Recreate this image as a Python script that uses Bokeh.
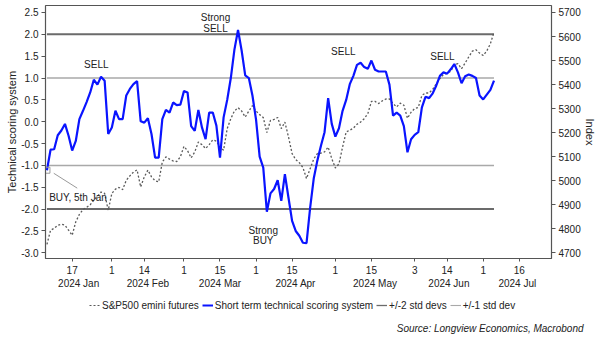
import numpy as np
from bokeh.plotting import figure
from bokeh.layouts import column
from bokeh.models import (Range1d, LinearAxis, FixedTicker, Legend, LegendItem,
                          Label, PrintfTickFormatter)
from bokeh.embed import file_html
from bokeh.resources import INLINE
from bokeh.core.properties import value

# ---------------- data ----------------
HOLIDAYS = ["2024-01-01", "2024-01-15", "2024-02-19", "2024-03-29",
            "2024-05-27", "2024-06-19", "2024-07-04"]
START_DATE = "2024-01-05"   # first trading day shown (daily series, trading days)

SCORE = [
    -1.11, -0.64, -0.63, -0.31, -0.20, -0.05, -0.32, -0.66, -0.44, 0.06,
    0.25, 0.45, 0.67, 0.96, 0.85, 1.03, 0.94, -0.28, -0.13, 0.25,
    0.06, 0.06, 0.60, 0.75, 0.86, 0.93, 0.01, -0.02, 0.08, -0.28,
    -0.82, -0.82, 0.06, 0.27, 0.21, 0.44, 0.38, 0.39, 0.70, 0.67,
    -0.10, -0.21, 0.27, -0.13, -0.40, 0.21, 0.21, -0.09, -0.82, 0.10,
    0.50, 1.00, 1.65, 2.10, 1.63, 1.06, 1.00, 0.60, 0.05, -0.80,
    -1.05, -2.06, -1.64, -1.54, -1.34, -1.81, -1.20, -1.74, -2.27, -2.50,
    -2.61, -2.77, -2.78, -1.97, -1.30, -0.89, -0.55, -0.24, 0.54, -0.05,
    -0.34, -0.15, 0.25, 0.50, 0.86, 1.05, 1.30, 1.35, 1.25, 1.21,
    1.40, 1.19, 1.15, 1.15, 1.15, 0.85, 0.14, 0.21, 0.14, -0.10,
    -0.70, -0.40, -0.30, -0.24, 0.33, 0.57, 0.54, 0.65, 0.83, 1.05,
    1.13, 1.10, 1.20, 1.32, 1.13, 0.88, 1.04, 1.08, 1.05, 1.00,
    0.60, 0.51, 0.62, 0.73, 0.94,
]

SP500 = [
    4735, 4794, 4802, 4815, 4819, 4815, 4794, 4773, 4829, 4860,
    4880, 4889, 4900, 4919, 4935, 4953, 4947, 4877, 4947, 4965,
    4972, 4963, 5002, 5020, 5036, 5045, 4974, 5016, 5044, 5016,
    5000, 4995, 5078, 5099, 5090, 5082, 5080, 5099, 5143, 5125,
    5095, 5120, 5161, 5150, 5134, 5150, 5170, 5165, 5140, 5127,
    5217, 5258, 5290, 5304, 5290, 5265, 5290, 5312, 5290, 5275,
    5263, 5200, 5251, 5255, 5263, 5217, 5244, 5182, 5113, 5088,
    5075, 5055, 5009, 5050, 5090, 5113, 5115, 5120, 5140, 5092,
    5053, 5070, 5140, 5203, 5210, 5219, 5235, 5244, 5258, 5279,
    5330, 5330, 5321, 5332, 5340, 5340, 5321, 5307, 5323, 5314,
    5260, 5285, 5300, 5305, 5355, 5365, 5365, 5380, 5404, 5425,
    5442, 5448, 5455, 5484, 5487, 5466, 5490, 5515, 5539, 5545,
    5531, 5521, 5540, 5570, 5618,
]

STD2 = 2.0
STD1 = 1.0

LEFT_TICKS = [-3.0, -2.5, -2.0, -1.5, -1.0, -0.5, 0.0, 0.5, 1.0, 1.5, 2.0, 2.5]
RIGHT_TICKS = [4700, 4800, 4900, 5000, 5100, 5200, 5300, 5400, 5500, 5600, 5700]

TICK_DATES = ["2024-01-17", "2024-02-01", "2024-02-14", "2024-03-01", "2024-03-15",
              "2024-04-01", "2024-04-15", "2024-05-01", "2024-05-15", "2024-06-03",
              "2024-06-14", "2024-07-01", "2024-07-16"]
TICK_LABELS = ["17", "1", "14", "1", "15", "1", "15", "1", "15", "3", "14", "1", "16"]

MONTH_STARTS = ["2024-01-01", "2024-02-01", "2024-03-01", "2024-04-01", "2024-05-01",
                "2024-06-01", "2024-07-01", "2024-08-01"]
MONTH_LABELS = ["2024 Jan", "2024 Feb", "2024 Mar", "2024 Apr", "2024 May",
                "2024 Jun", "2024 Jul"]

ANNOT_TEXT = ["SELL", "Strong", "SELL", "Strong", "BUY", "SELL", "SELL", "BUY, 5th Jan"]
LEGEND_LABELS = ["S&P500 emini futures", "Short term technical scoring system",
                 "+/-2 std devs", "+/-1 std dev"]
SOURCE = "Source: Longview Economics, Macrobond"

# ---------------- helpers ----------------
ORIGIN = "2024-01-02"


def tday(d):
    d = np.array(d, dtype="datetime64[D]")
    return np.busday_count(ORIGIN, d, holidays=HOLIDAYS).astype(float)


n = len(SCORE)
dates = np.busday_offset(START_DATE, np.arange(n), roll="forward", holidays=HOLIDAYS)
x = tday(dates)

X0, X1 = 2.6, 142.95
Y0, Y1 = -3.13, 2.66


def to_idx(v):
    # right axis aligned so that -3 <-> 4700 and 2.5 <-> 5700
    return 4700 + (v + 3.0) * 1000.0 / 5.5


FONT = "Liberation Sans"
AX = "#555555"
TXT = "#222222"
BLUE = "#0a14ff"
SPC = "#5a5a5a"
C2 = "#6b6b6b"
C1 = "#a9a9a9"

TOP_H = 292
BOT_H = 338 - TOP_H

p = figure(width=602, height=TOP_H, output_backend="svg", toolbar_location=None,
           x_range=Range1d(X0, X1), y_range=Range1d(Y0, Y1),
           x_axis_type=None, y_axis_type=None,
           min_border_left=45, min_border_right=51, min_border_top=5,
           min_border_bottom=TOP_H - 258)
p.frame_align = False
p.extra_y_ranges = {"idx": Range1d(to_idx(Y0), to_idx(Y1))}
p.grid.visible = False
p.outline_line_color = AX
p.outline_line_width = 1


def style(ax, size="10px"):
    ax.axis_line_color = AX
    ax.axis_line_width = 1.2
    ax.major_tick_line_color = AX
    ax.major_tick_in = 0
    ax.major_tick_out = 4
    ax.minor_tick_line_color = None
    ax.major_label_text_font = FONT
    ax.major_label_text_font_size = size
    ax.major_label_text_color = TXT
    ax.axis_label_text_font = FONT
    ax.axis_label_text_font_size = "11px"
    ax.axis_label_text_font_style = "normal"
    ax.axis_label_text_color = TXT


ly = LinearAxis(ticker=FixedTicker(ticks=LEFT_TICKS),
                formatter=PrintfTickFormatter(format="%.1f"),
                axis_label="Technical scoring system")
style(ly)
ly.major_label_standoff = 3
ly.axis_label_standoff = 0
p.add_layout(ly, "left")

ry = LinearAxis(y_range_name="idx", ticker=FixedTicker(ticks=RIGHT_TICKS),
                axis_label="Index")
style(ry)
ry.major_label_standoff = 3
ry.axis_label_standoff = 0
p.add_layout(ry, "right")

tick_x = tday(TICK_DATES)
xa = LinearAxis(ticker=FixedTicker(ticks=list(tick_x)),
                major_label_overrides={float(t): l for t, l in zip(tick_x, TICK_LABELS)})
style(xa)
xa.major_tick_out = 3
xa.major_label_standoff = 4
p.add_layout(xa, "below")

mb = tday(MONTH_STARTS)
mcent = [float((max(mb[i], X0) + min(mb[i + 1], X1)) / 2.0) for i in range(len(MONTH_LABELS))]
ma = LinearAxis(ticker=FixedTicker(ticks=mcent),
                major_label_overrides={t: l for t, l in zip(mcent, MONTH_LABELS)})
style(ma)
ma.axis_line_color = None
ma.major_tick_line_color = None
ma.major_tick_out = 0
ma.major_label_standoff = 1
p.add_layout(ma, "below")

# ---------------- series ----------------
p.line(x, [STD2] * n, line_color=C2, line_width=2)
p.line(x, [-STD2] * n, line_color=C2, line_width=2)
p.line(x, [STD1] * n, line_color=C1, line_width=1.5)
p.line(x, [-STD1] * n, line_color=C1, line_width=1.5)

p.line(x, SP500, y_range_name="idx", line_color=SPC, line_width=1.3, line_dash="2 2")
p.line(x, SCORE, line_color=BLUE, line_width=2.2)

# BUY marker on first point
p.scatter([x[0]], [SCORE[0]], marker="square", size=6, fill_color=None,
          line_color="#9a9a9a", line_width=1)
p.segment(x0=[x[0] + 1.9], y0=[SCORE[0] - 0.07], x1=[x[0] + 8.4], y1=[SCORE[0] - 0.41],
          line_color="#9a9a9a", line_width=1)

# annotations (positions in trading-day / score units)
ann_x = [16.7, 49.75, 49.75, 63.0, 63.0, 85.2, 112.7, 11.6]
ann_y = [1.32, 2.39, 2.14, -2.49, -2.72, 1.61, 1.49, -1.74]
p.text(x=ann_x, y=ann_y, text=ANNOT_TEXT, text_align="center", text_baseline="middle",
       text_font=value(FONT), text_font_size="10px", text_color=TXT)

# ---------------- legend + source strip ----------------
q = figure(width=602, height=BOT_H, output_backend="svg", toolbar_location=None,
           x_range=Range1d(0, 1), y_range=Range1d(0, 1),
           x_axis_type=None, y_axis_type=None,
           min_border_left=0, min_border_right=0, min_border_top=0,
           min_border_bottom=0)
q.frame_align = False
q.grid.visible = False
q.outline_line_color = None

# legend-only proxies (one NaN point each, nothing is drawn)
NAN = [float("nan")]
r_sp = q.line(NAN, NAN, line_color=SPC, line_width=1.2, line_dash="2 2")
r_sc = q.line(NAN, NAN, line_color=BLUE, line_width=2)
r_2 = q.line(NAN, NAN, line_color=C2, line_width=1.3)
r_1 = q.line(NAN, NAN, line_color=C1, line_width=1.1)

# legend: top edge 7px below strip top, left edge at x=89 of the page
legend = Legend(items=[LegendItem(label=l, renderers=[r]) for l, r in
                       zip(LEGEND_LABELS, [r_sp, r_sc, r_2, r_1])],
                orientation="horizontal", location=(89, BOT_H - 19))
legend.border_line_color = None
legend.background_fill_alpha = 0
legend.label_text_font = FONT
legend.label_text_font_size = "10px"
legend.label_text_color = TXT
legend.label_height = 12
legend.glyph_width = 11
legend.glyph_height = 12
legend.label_standoff = 2
legend.spacing = 3
legend.padding = 0
legend.margin = 0
q.add_layout(legend, "center")

q.add_layout(Label(x=583, y=BOT_H - 36, x_units="screen", y_units="screen",
                   text=SOURCE, text_align="right", text_baseline="middle",
                   text_font=FONT, text_font_size="10px", text_font_style="italic",
                   text_color=TXT))

open("out.html", "w").write(file_html(column(p, q, spacing=0), INLINE))
